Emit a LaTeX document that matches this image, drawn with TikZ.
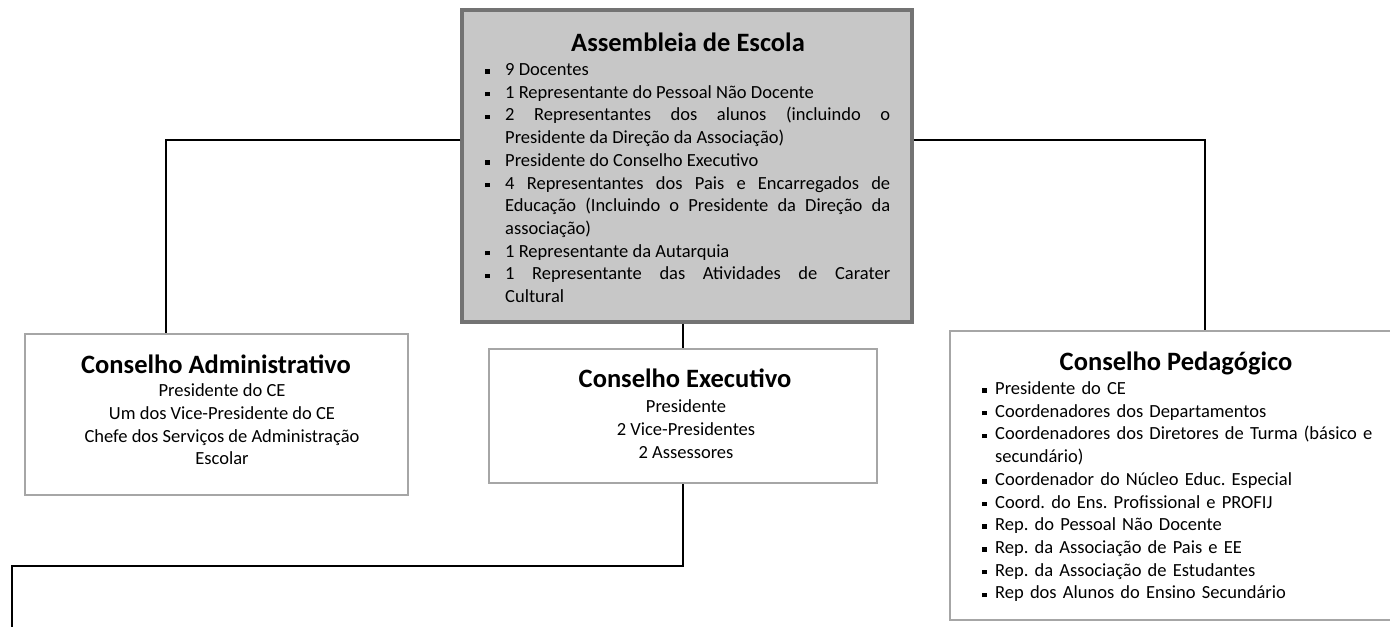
\documentclass[tikz,border=0pt]{standalone}
\usepackage{fontspec}
\setmainfont{Carlito}
\frenchspacing
\newlength\hind
\newcommand{\sqb}{\rule[1.8pt]{4.5pt}{4.5pt}}
\newcommand{\li}[1]{\par\noindent\hangindent=\hind\hangafter=1\makebox[\hind][l]{\sqb}\strut#1\par}
\tikzset{
  conn/.style={draw=black, line width=1.6pt},
  topbox/.style={rectangle, draw=black!55, line width=3.5pt, fill=black!22, inner sep=0pt},
  subbox/.style={rectangle, draw=black!35, line width=2.8pt, fill=white, inner sep=0pt},
  ttl/.style={font=\fontsize{26.5}{30}\selectfont\bfseries, inner sep=0pt, anchor=base},
  bodyb/.style={font=\fontsize{18.5}{22.7}\selectfont\frenchspacing, inner sep=0pt},
}
\begin{document}
\begin{tikzpicture}[x=1pt,y=-1pt]
\useasboundingbox (0,0) rectangle (1390,627);
% boxes
\node[topbox, minimum width=450pt, minimum height=312pt] (A) at (687,166) {};
\node[subbox, minimum width=383pt, minimum height=161pt] (L) at (216.5,414.5) {};
\node[subbox, minimum width=388pt, minimum height=134pt] (E) at (683,416) {};
\node[subbox, minimum width=445pt, minimum height=289pt] (P) at (1172.5,475.5) {};
% texts
\node[ttl] (At) at (688,51.5) {Assembleia de Escola};
\node[bodyb, anchor=north west, text width=405pt, align=justify] (Al) at (485,52.6) {%
\setlength\hind{20pt}\tolerance=9999\emergencystretch=0pt\hbadness=10000
\li{9 Docentes}
\li{1 Representante do Pessoal Não Docente}
\li{2 Representantes dos alunos (incluindo o\linebreak Presidente da Direção da Associação)}
\li{Presidente do Conselho Executivo}
\li{4 Representantes dos Pais e Encarregados de\linebreak Educação (Incluindo o Presidente da Direção da\linebreak associação)}
\li{1 Representante da Autarquia}
\li{1 Representante das Atividades de Carater\linebreak Cultural}};
\node[ttl] (Lt) at (216,373.5) {Conselho Administrativo};
\node[bodyb, anchor=north, align=center] (Lb) at (222,380.6) {\strut Presidente do CE\\ Um dos Vice-Presidente do CE\\ Chefe dos Serviços de Administração\\ Escolar};
\node[ttl] (Et) at (685,387.5) {Conselho Executivo};
\node[bodyb, anchor=north, align=center] (Eb) at (686,396.6) {\strut Presidente\\ 2 Vice-Presidentes\\ 2 Assessores};
\node[ttl] (Pt) at (1176,370.5) {Conselho Pedagógico};
\node[bodyb, anchor=north west, text width=405pt, align=left] (Pl) at (982,371.6) {%
\setlength\hind{13pt}
\li{Presidente do CE}
\li{Coordenadores dos Departamentos}
\li{Coordenadores dos Diretores de Turma (básico e\newline secundário)}
\li{Coordenador do Núcleo Educ. Especial}
\li{Coord. do Ens. Profissional e PROFIJ}
\li{Rep. do Pessoal Não Docente}
\li{Rep. da Associação de Pais e EE}
\li{Rep. da Associação de Estudantes}
\li{Rep dos Alunos do Ensino Secundário}};
% connectors
\coordinate (lk) at (166,140);
\coordinate (rk) at (1205,140);
\coordinate (bk) at (12,566);
\coordinate (be) at (12,627);
\draw[conn] (A.west |- lk) -- (lk) -- (lk |- L.north);
\draw[conn] (A.east |- rk) -- (rk) -- (rk |- P.north);
\draw[conn] (A.south -| E.north) -- (E.north);
\draw[conn] (E.south) -- (E.south |- bk) -- (bk) -- (be);
\end{tikzpicture}
\end{document}
